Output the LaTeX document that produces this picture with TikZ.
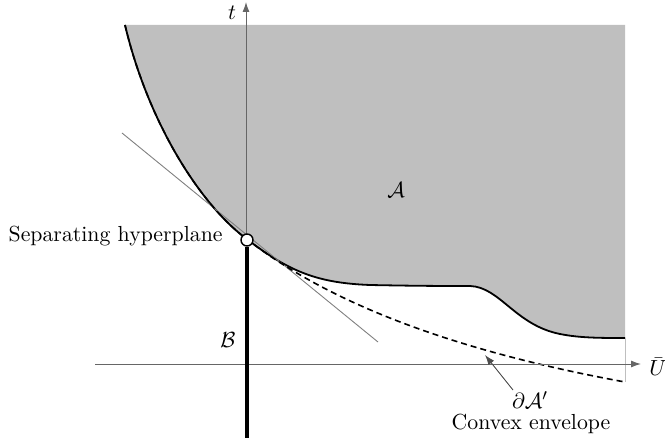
\documentclass[tikz,border=0pt]{standalone}
\usetikzlibrary{arrows.meta}
\begin{document}
\begin{tikzpicture}[x=0.5pt,y=-0.5pt,
  axis/.style={line width=0.5pt,draw=black!60},
  lbl/.style={inner sep=0pt,font=\fontsize{10.9}{13}\selectfont},
  region/.style={fill=black!25},
  bnd/.style={line width=0.9pt},
  hull/.style={line width=0.8pt,dash pattern=on 3pt off 2pt},
  tang/.style={line width=0.45pt,draw=black!50}]
\useasboundingbox (0,0) rectangle (665,444);
% region A
\fill[region] (125,25) .. controls (148,122) and (200,205) .. (248,240)
  .. controls (290,272) and (318,283) .. (370,285)
  .. controls (420,286) and (445,286) .. (470,286)
  .. controls (500,287) and (515,325) .. (560,334)
  .. controls (580,338) and (600,338) .. (625,338) -- (625,25) -- cycle;
\draw[bnd] (125,25) .. controls (148,122) and (200,205) .. (248,240)
  .. controls (290,272) and (318,283) .. (370,285)
  .. controls (420,286) and (445,286) .. (470,286)
  .. controls (500,287) and (515,325) .. (560,334)
  .. controls (580,338) and (600,338) .. (625,338);
\draw[line width=0.4pt,draw=black!25] (625,338) -- (625,382);
% tangent line
\coordinate (tA) at (122,133);
\coordinate (tB) at (378,342);
\draw[tang] (tA) -- (tB);
% convex envelope
\draw[hull] (125,25) .. controls (148,122) and (200,205) .. (248,240)
  .. controls (328,302) and (450,350) .. (625,382);
% axes
\coordinate (ux0) at (95,364);
\coordinate (ux1) at (641,364);
\coordinate (tx0) at (246,240);
\coordinate (tx1) at (246,2);
\draw[axis,-{Latex[length=5pt,width=3.5pt]}] (ux0) -- (ux1);
\draw[axis,-{Latex[length=5pt,width=3.5pt]}] (tx0) -- (tx1);
% set B
\coordinate (bEnd) at (247,438);
\node[circle,draw,fill=white,line width=0.7pt,inner sep=0pt,minimum size=6pt] (pt) at (247,240) {};
\draw[line width=2pt] (pt.south) -- (bEnd);
% labels
\node[lbl] (tl) at (232,13) {$t$};
\node[lbl] (ul) at (658,367) {$\bar U$};
\node[lbl] (al) at (396,190) {$\mathcal A$};
\node[lbl] (bl) at (228,340) {$\mathcal B$};
\node[lbl,anchor=east] (sh) at (223,236) {Separating hyperplane};
\node[lbl] (dl) at (530,400) {$\partial\mathcal A'$};
\node[lbl] (ce) at (531,424) {Convex envelope};
\coordinate (arrTail) at (513,390);
\coordinate (arrTip) at (485,355);
\draw[line width=0.45pt,draw=black!70,-{Latex[length=5pt,width=3.5pt]}] (arrTail) -- (arrTip);
\end{tikzpicture}
\end{document}
